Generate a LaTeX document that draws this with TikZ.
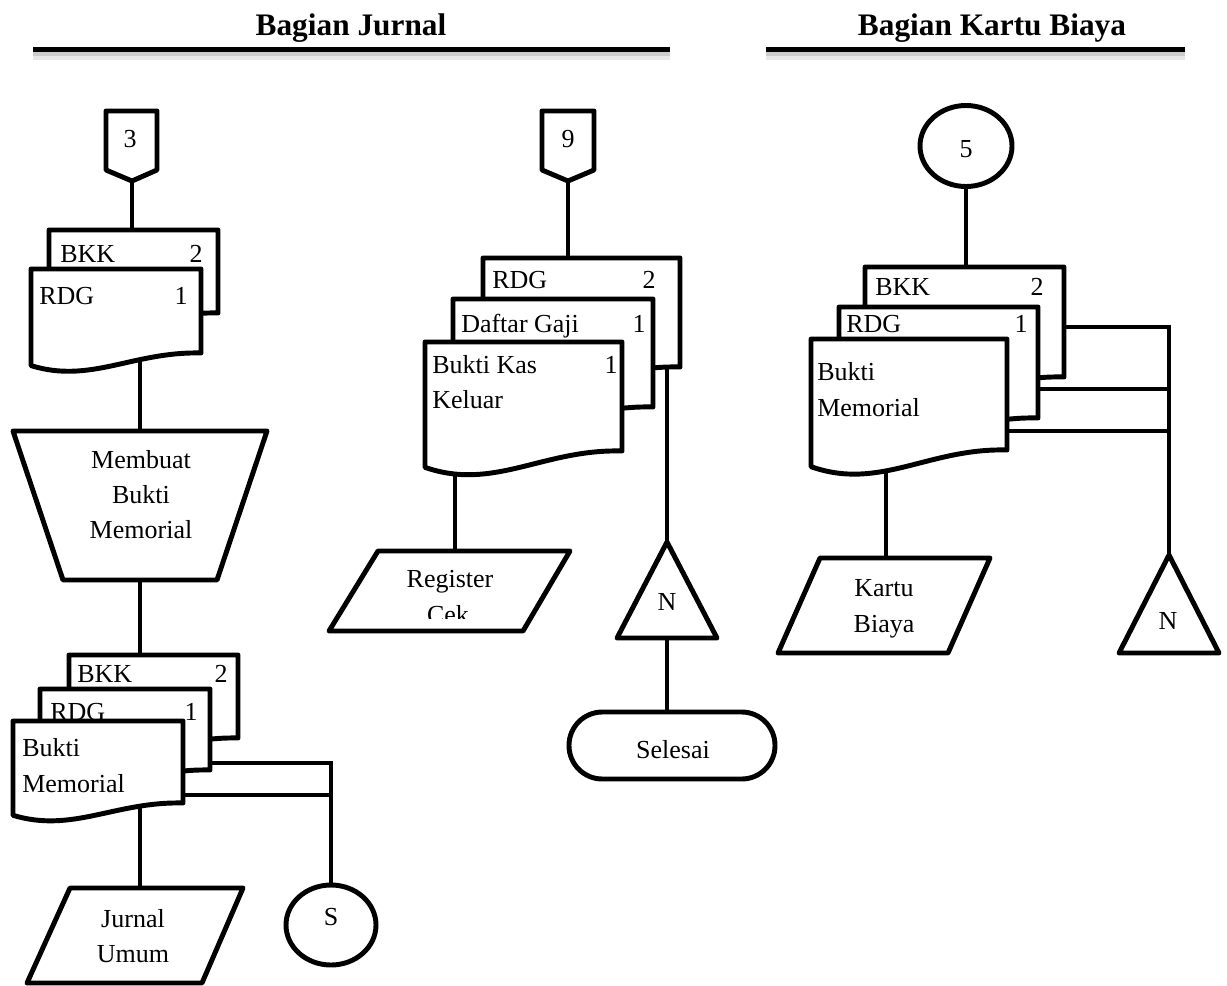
\documentclass[tikz,border=0pt]{standalone}
\usepackage{fontspec}
\setmainfont{Liberation Serif}
\pgfdeclarelayer{background}
\pgfsetlayers{background,main}

% Flowchart document symbol: name, left, top, right, bottom of right edge
\newcommand{\flowdoc}[5]{%
  \coordinate (#1-n) at ({(#2+#4)/2},#3);
  \draw[shp] (#2,#3) -- (#4,#3) -- (#4,#5)
    .. controls ({#2+0.6*(#4-#2)},{#5-0.02*(#5-#3)}) and ({#2+0.35*(#4-#2)},{#5+0.37*(#5-#3)})
    .. (#2,{#5+0.15*(#5-#3)}) -- cycle;
}

\begin{document}
\begin{tikzpicture}[x=0.75pt,y=-0.75pt,
  shp/.style={draw=black, fill=white, line width=3.7pt, line join=round},
  wire/.style={draw=black, line width=3.7pt},
  lbl/.style={inner sep=0pt, font=\fontsize{19.5}{23}\selectfont},
  hdr/.style={inner sep=0pt, font=\bfseries\fontsize{23.5}{28}\selectfont},
  rulebar/.style={line width=3.8pt},
  ruleshadeA/.style={line width=7pt, black!9},
  ruleshadeB/.style={line width=3.5pt, black!20}]
\useasboundingbox (0,0) rectangle (1227,985);

% ---------- section headers ----------
\node[hdr, anchor=base] (hj) at (351,35) {Bagian Jurnal};
\node[hdr, anchor=base] (hk) at (992,35) {Bagian Kartu Biaya};
\coordinate (hjL) at (33,49.5);  \coordinate (hjR) at (670,49.5);
\coordinate (hkL) at (766,49.5); \coordinate (hkR) at (1185,49.5);
\begin{pgfonlayer}{background}
  \draw[ruleshadeA] ([yshift=-4pt]hjL) -- ([yshift=-4pt]hjR);
  \draw[ruleshadeA] ([yshift=-4pt]hkL) -- ([yshift=-4pt]hkR);
  \draw[ruleshadeB] ([yshift=-3pt]hjL) -- ([yshift=-3pt]hjR);
  \draw[ruleshadeB] ([yshift=-3pt]hkL) -- ([yshift=-3pt]hkR);
\end{pgfonlayer}
\draw[rulebar] (hjL) -- (hjR);
\draw[rulebar] (hkL) -- (hkR);

% ---------- Bagian Jurnal: left column ----------
\draw[shp] (106,111) -- (157,111) -- (157,170) -- (132,181) -- (106,170) -- cycle;
\coordinate (off3-s) at (132,181);
\node[lbl, anchor=base] (t3) at (130,147) {3};

\flowdoc{docA}{49}{230}{218}{313}
\node[lbl, anchor=base west] (docA-t) at (60,262) {BKK};
\node[lbl, anchor=base east] (docA-k) at (203,262) {2};
\flowdoc{docB}{31}{269}{201}{353}
\node[lbl, anchor=base west] (docB-t) at (39,304) {RDG};
\node[lbl, anchor=base east] (docB-k) at (188,304) {1};
\coordinate (docB-out) at (140,340);

\draw[shp] (13,431) -- (267,431) -- (217,580) -- (63,580) -- cycle;
\coordinate (trap-n) at (140,431);
\coordinate (trap-s) at (140,580);
\node[lbl, anchor=base] (mb1) at (141,468) {Membuat};
\node[lbl, anchor=base] (mb2) at (141,503) {Bukti};
\node[lbl, anchor=base] (mb3) at (141,538) {Memorial};

\flowdoc{docC}{69}{655}{238}{738}
\node[lbl, anchor=base west] (docC-t) at (77,682) {BKK};
\node[lbl, anchor=base east] (docC-k) at (228,682) {2};
\flowdoc{docD}{40}{689}{210}{770}
\node[lbl, anchor=base west] (docD-t) at (50,720) {RDG};
\node[lbl, anchor=base east] (docD-k) at (198,720) {1};
\coordinate (docD-r) at (200,763);
\flowdoc{docE}{13}{721}{183}{803}
\node[lbl, anchor=base west] (docE-t1) at (22,756) {Bukti};
\node[lbl, anchor=base west] (docE-t2) at (22,792) {Memorial};
\coordinate (docE-r) at (170,795);
\coordinate (docE-out) at (140,800);

\draw[shp] (70,888) -- (243,888) -- (202,983) -- (27,983) -- cycle;
\coordinate (jur-n) at (140,888);
\node[lbl, anchor=base] (jur1) at (133,927) {Jurnal};
\node[lbl, anchor=base] (jur2) at (133,962) {Umum};

\draw[shp] (331,925) ellipse [x radius=45, y radius=40];
\coordinate (sc-n) at (331,885);
\node[lbl, anchor=base] (tS) at (331,925) {S};

% ---------- Bagian Jurnal: middle column ----------
\draw[shp] (542,111) -- (594,111) -- (594,170) -- (568,181) -- (542,170) -- cycle;
\coordinate (off9-s) at (568,181);
\node[lbl, anchor=base] (t9) at (568,147) {9};

\flowdoc{docF}{483}{258}{680}{367}
\node[lbl, anchor=base west] (docF-t) at (492,288) {RDG};
\node[lbl, anchor=base east] (docF-k) at (656,288) {2};
\coordinate (docF-out) at (667,360);
\flowdoc{docG}{453}{299}{653}{407}
\node[lbl, anchor=base west] (docG-t) at (461,332) {Daftar Gaji};
\node[lbl, anchor=base east] (docG-k) at (646,332) {1};
\flowdoc{docH}{425}{342}{622}{451}
\node[lbl, anchor=base west] (docH-t1) at (432,373) {Bukti Kas};
\node[lbl, anchor=base east] (docH-k) at (618,373) {1};
\node[lbl, anchor=base west] (docH-t2) at (432,408) {Keluar};
\coordinate (docH-out) at (455,460);

\draw[shp] (667,542) -- (717,638) -- (617,638) -- cycle;
\coordinate (triA-n) at (667,542);
\coordinate (triA-s) at (667,638);
\node[lbl, anchor=base] (tNa) at (667,610) {N};

\draw[shp, rounded corners=25pt] (569,712) rectangle (775,779);
\coordinate (sel-n) at (667,712);
\node[lbl, anchor=base] (tsel) at (673,758) {Selesai};

\draw[shp] (378,551) -- (570,551) -- (523,631) -- (329,631) -- cycle;
\coordinate (reg-n) at (455,551);
\node[lbl, anchor=base] (reg1) at (450,587) {Register};
\begin{scope}
  \clip (329,551) rectangle (570,618);
  \node[lbl, anchor=base] (reg2) at (448,623) {Cek};
\end{scope}

% ---------- Bagian Kartu Biaya ----------
\draw[shp] (966,146) ellipse [x radius=46, y radius=40.5];
\coordinate (c5-s) at (966,187);
\node[lbl, anchor=base] (t5) at (966,157) {5};

\flowdoc{docI}{865}{267}{1064}{377}
\node[lbl, anchor=base west] (docI-t) at (875,295) {BKK};
\node[lbl, anchor=base east] (docI-k) at (1044,295) {2};
\coordinate (docI-r) at (1050,327);
\flowdoc{docJ}{839}{307}{1038}{418}
\node[lbl, anchor=base west] (docJ-t) at (846,332) {RDG};
\node[lbl, anchor=base east] (docJ-k) at (1028,332) {1};
\coordinate (docJ-r) at (1030,389);
\flowdoc{docK}{811}{339}{1007}{450}
\node[lbl, anchor=base west] (docK-t1) at (817,380) {Bukti};
\node[lbl, anchor=base west] (docK-t2) at (817,416) {Memorial};
\coordinate (docK-r) at (1000,431);
\coordinate (docK-out) at (886,460);

\draw[shp] (1169,555) -- (1219,653) -- (1119,653) -- cycle;
\coordinate (triB-n) at (1169,555);
\node[lbl, anchor=base] (tNb) at (1168,629) {N};

\draw[shp] (820,558) -- (990,558) -- (948,653) -- (778,653) -- cycle;
\coordinate (kb-n) at (886,558);
\node[lbl, anchor=base] (kb1) at (884,596) {Kartu};
\node[lbl, anchor=base] (kb2) at (884,632) {Biaya};

% ---------- flow lines (behind the symbols) ----------
\begin{pgfonlayer}{background}
  \draw[wire] (off3-s) -- (off3-s |- docA-n);
  \draw[wire] (docB-out) -- (trap-n);
  \draw[wire] (trap-s) -- (trap-s |- docC-n);
  \draw[wire] (docE-out) -- (jur-n);
  \draw[wire] (docD-r) -- (docD-r -| sc-n) -- (sc-n);
  \draw[wire] (docE-r) -- (docE-r -| sc-n);
  \draw[wire] (off9-s) -- (off9-s |- docF-n);
  \draw[wire] (docF-out) -- (triA-n);
  \draw[wire] (triA-s) -- (sel-n);
  \draw[wire] (docH-out) -- (reg-n);
  \draw[wire] (c5-s) -- (c5-s |- docI-n);
  \draw[wire] (docI-r) -- (docI-r -| triB-n) -- (triB-n);
  \draw[wire] (docJ-r) -- (docJ-r -| triB-n);
  \draw[wire] (docK-r) -- (docK-r -| triB-n);
  \draw[wire] (docK-out) -- (kb-n);
\end{pgfonlayer}
\end{tikzpicture}
\end{document}
